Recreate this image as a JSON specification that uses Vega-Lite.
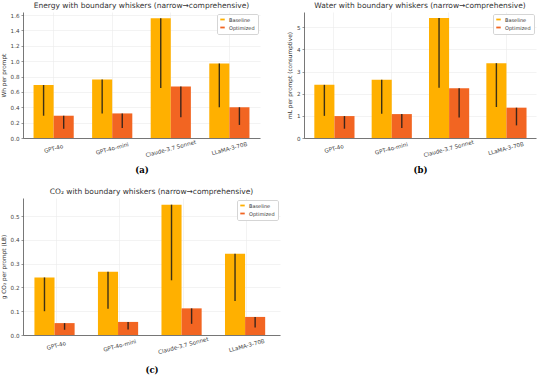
{
  "$schema": "https://vega.github.io/schema/vega-lite/v6.json",
  "padding": {"top": 1, "left": 0, "right": 2, "bottom": 2},
  "background": "white",
  "datasets": {
    "energy": [
      {"model": "GPT-4o", "series": "Baseline", "value": 0.69, "low": 0.29},
      {"model": "GPT-4o", "series": "Optimized", "value": 0.29, "low": 0.12},
      {"model": "GPT-4o-mini", "series": "Baseline", "value": 0.76, "low": 0.32},
      {"model": "GPT-4o-mini", "series": "Optimized", "value": 0.32, "low": 0.13},
      {"model": "Claude-3.7 Sonnet", "series": "Baseline", "value": 1.56, "low": 0.65},
      {"model": "Claude-3.7 Sonnet", "series": "Optimized", "value": 0.67, "low": 0.27},
      {"model": "LLaMA-3-70B", "series": "Baseline", "value": 0.97, "low": 0.40},
      {"model": "LLaMA-3-70B", "series": "Optimized", "value": 0.40, "low": 0.17}
    ],
    "water": [
      {"model": "GPT-4o", "series": "Baseline", "value": 2.40, "low": 1.00},
      {"model": "GPT-4o", "series": "Optimized", "value": 0.99, "low": 0.42},
      {"model": "GPT-4o-mini", "series": "Baseline", "value": 2.63, "low": 1.10},
      {"model": "GPT-4o-mini", "series": "Optimized", "value": 1.08, "low": 0.45},
      {"model": "Claude-3.7 Sonnet", "series": "Baseline", "value": 5.42, "low": 2.27},
      {"model": "Claude-3.7 Sonnet", "series": "Optimized", "value": 2.25, "low": 0.93},
      {"model": "LLaMA-3-70B", "series": "Baseline", "value": 3.38, "low": 1.40},
      {"model": "LLaMA-3-70B", "series": "Optimized", "value": 1.37, "low": 0.57}
    ],
    "co2": [
      {"model": "GPT-4o", "series": "Baseline", "value": 0.242, "low": 0.100},
      {"model": "GPT-4o", "series": "Optimized", "value": 0.050, "low": 0.022},
      {"model": "GPT-4o-mini", "series": "Baseline", "value": 0.266, "low": 0.110},
      {"model": "GPT-4o-mini", "series": "Optimized", "value": 0.055, "low": 0.023},
      {"model": "Claude-3.7 Sonnet", "series": "Baseline", "value": 0.548, "low": 0.230},
      {"model": "Claude-3.7 Sonnet", "series": "Optimized", "value": 0.112, "low": 0.047},
      {"model": "LLaMA-3-70B", "series": "Baseline", "value": 0.342, "low": 0.143},
      {"model": "LLaMA-3-70B", "series": "Optimized", "value": 0.076, "low": 0.032}
    ]
  },
  "config": {
    "font": "DejaVu Sans",
    "view": {"stroke": null},
    "title": {"fontSize": 7.5, "fontWeight": "normal", "color": "#333333", "offset": 3, "font": "DejaVu Sans"},
    "axis": {
      "labelFontSize": 5.6, "labelColor": "#444444", "titleFontSize": 5.8, "titleFontWeight": "normal", "titleColor": "#333333",
      "domainColor": "#555555", "domainWidth": 0.8, "tickColor": "#555555", "tickSize": 2, "tickWidth": 0.6,
      "gridColor": "#ebebeb", "gridWidth": 0.6, "labelPadding": 2, "labelOverlap": false
    },
    "legend": {
      "orient": "top-right", "offset": 2, "fillColor": "white", "strokeColor": "#d5d5d5", "padding": 3, "cornerRadius": 1.5,
      "labelFontSize": 5, "labelColor": "#333333", "rowPadding": 2, "symbolType": "M-1,-0.4H1V0.4H-1Z", "symbolSize": 20,
      "symbolStrokeWidth": 0, "title": null, "labelOffset": 4
    }
  },
  "resolve": {"scale": {"color": "independent"}, "legend": {"color": "independent"}},
  "spacing": 13,
  "vconcat": [
    {
      "resolve": {"scale": {"color": "independent"}, "legend": {"color": "independent"}},
      "spacing": 26,
      "hconcat": [
        {
          "width": 237, "height": 126,
          "title": "Energy with boundary whiskers (narrow→comprehensive)",
          "data": {"name": "energy"},
          "encoding": {
            "x": {"field": "model", "type": "nominal", "sort": ["GPT-4o", "GPT-4o-mini", "Claude-3.7 Sonnet", "LLaMA-3-70B"],
              "scale": {"paddingInner": 0.314, "paddingOuter": 0.18},
              "axis": {"title": "(a)", "titleFont": "DejaVu Serif", "titleFontWeight": "bold", "titleFontSize": 8.5, "titleColor": "#000000", "titlePadding": 7,
                "labelAngle": -15, "labelAlign": "center", "labelBaseline": "middle", "labelPadding": 10, "grid": true, "bandPosition": 0.5, "ticks": false}},
            "xOffset": {"field": "series", "type": "nominal", "scale": {"paddingInner": 0, "paddingOuter": 0}}
          },
          "layer": [
            {"mark": {"type": "bar"},
              "encoding": {
                "y": {"field": "value", "type": "quantitative", "scale": {"domain": [0, 1.64], "nice": false},
                  "axis": {"title": "Wh per prompt", "values": [0, 0.2, 0.4, 0.6, 0.8, 1.0, 1.2, 1.4, 1.6], "format": ".1f", "titlePadding": 4}},
                "color": {"field": "series", "type": "nominal", "scale": {"domain": ["Baseline", "Optimized"], "range": ["#FFB000", "#F26522"]}}
              }},
            {"mark": {"type": "rule", "color": "#1a1a1a", "strokeWidth": 1.4, "opacity": 0.85},
              "encoding": {"y": {"field": "low", "type": "quantitative",
                  "axis": {"title": "Wh per prompt", "values": [0, 0.2, 0.4, 0.6, 0.8, 1.0, 1.2, 1.4, 1.6], "format": ".1f", "titlePadding": 4}},
                "y2": {"field": "value"}}}
          ]
        },
        {
          "width": 232, "height": 126,
          "title": "Water with boundary whiskers (narrow→comprehensive)",
          "data": {"name": "water"},
          "encoding": {
            "x": {"field": "model", "type": "nominal", "sort": ["GPT-4o", "GPT-4o-mini", "Claude-3.7 Sonnet", "LLaMA-3-70B"],
              "scale": {"paddingInner": 0.314, "paddingOuter": 0.18},
              "axis": {"title": "(b)", "titleFont": "DejaVu Serif", "titleFontWeight": "bold", "titleFontSize": 8.5, "titleColor": "#000000", "titlePadding": 7,
                "labelAngle": -15, "labelAlign": "center", "labelBaseline": "middle", "labelPadding": 10, "grid": true, "bandPosition": 0.5, "ticks": false}},
            "xOffset": {"field": "series", "type": "nominal", "scale": {"paddingInner": 0, "paddingOuter": 0}}
          },
          "layer": [
            {"mark": {"type": "bar"},
              "encoding": {
                "y": {"field": "value", "type": "quantitative", "scale": {"domain": [0, 5.69], "nice": false},
                  "axis": {"title": "mL per prompt (consumptive)", "values": [0, 1, 2, 3, 4, 5], "format": "d", "titlePadding": 4}},
                "color": {"field": "series", "type": "nominal", "scale": {"domain": ["Baseline", "Optimized"], "range": ["#FFB000", "#F26522"]}}
              }},
            {"mark": {"type": "rule", "color": "#1a1a1a", "strokeWidth": 1.4, "opacity": 0.85},
              "encoding": {"y": {"field": "low", "type": "quantitative",
                  "axis": {"title": "mL per prompt (consumptive)", "values": [0, 1, 2, 3, 4, 5], "format": "d", "titlePadding": 4}},
                "y2": {"field": "value"}}}
          ]
        }
      ]
    },
    {
      "width": 257, "height": 137,
      "title": "CO₂ with boundary whiskers (narrow→comprehensive)",
      "data": {"name": "co2"},
      "encoding": {
        "x": {"field": "model", "type": "nominal", "sort": ["GPT-4o", "GPT-4o-mini", "Claude-3.7 Sonnet", "LLaMA-3-70B"],
          "scale": {"paddingInner": 0.314, "paddingOuter": 0.18},
          "axis": {"title": "(c)", "titleFont": "DejaVu Serif", "titleFontWeight": "bold", "titleFontSize": 8.5, "titleColor": "#000000", "titlePadding": 10,
            "labelAngle": -15, "labelAlign": "center", "labelBaseline": "middle", "labelPadding": 10, "grid": true, "bandPosition": 0.5, "ticks": false}},
        "xOffset": {"field": "series", "type": "nominal", "scale": {"paddingInner": 0, "paddingOuter": 0}}
      },
      "layer": [
        {"mark": {"type": "bar"},
          "encoding": {
            "y": {"field": "value", "type": "quantitative", "scale": {"domain": [0, 0.576], "nice": false},
              "axis": {"title": "g CO₂ per prompt (LB)", "values": [0, 0.1, 0.2, 0.3, 0.4, 0.5], "format": ".1f", "titlePadding": 4}},
            "color": {"field": "series", "type": "nominal", "scale": {"domain": ["Baseline", "Optimized"], "range": ["#FFB000", "#F26522"]}}
          }},
        {"mark": {"type": "rule", "color": "#1a1a1a", "strokeWidth": 1.4, "opacity": 0.85},
          "encoding": {"y": {"field": "low", "type": "quantitative",
              "axis": {"title": "g CO₂ per prompt (LB)", "values": [0, 0.1, 0.2, 0.3, 0.4, 0.5], "format": ".1f", "titlePadding": 4}},
            "y2": {"field": "value"}}}
      ]
    }
  ]
}
